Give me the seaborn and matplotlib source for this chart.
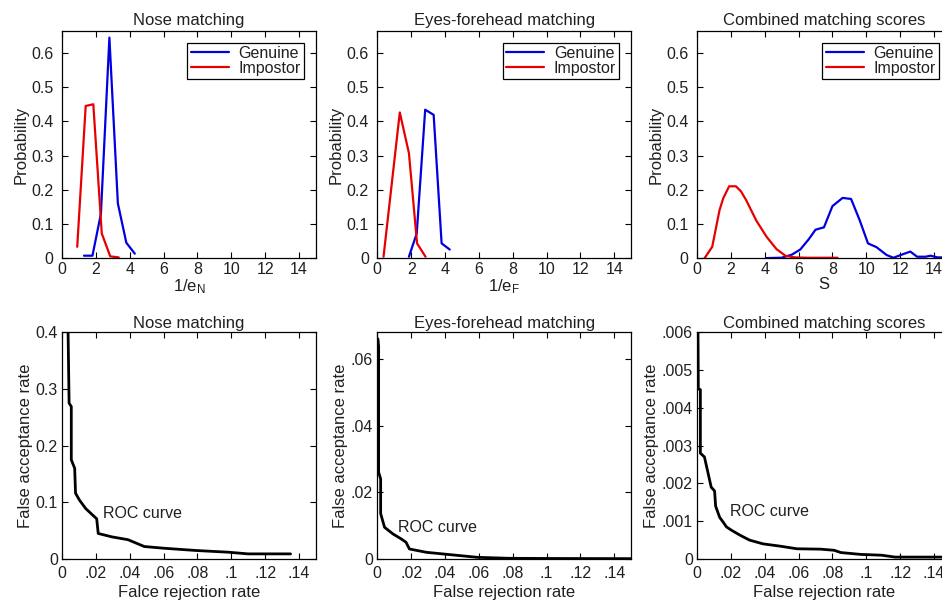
import numpy as np
import pandas as pd
import matplotlib
matplotlib.use('Agg')
import matplotlib.pyplot as plt
import seaborn as sns

# ---------------- data ----------------
nose_gen_x = [1.3, 1.8, 2.3, 2.8, 3.3, 3.8, 4.3]
nose_gen_y = [0.007, 0.007, 0.13, 0.645, 0.16, 0.045, 0.013]
nose_imp_x = [0.9, 1.4, 1.85, 2.35, 2.85, 3.35]
nose_imp_y = [0.033, 0.445, 0.45, 0.072, 0.005, 0.002]

eyes_gen_x = [1.87, 2.33, 2.83, 3.33, 3.8, 4.28]
eyes_gen_y = [0.004, 0.072, 0.434, 0.419, 0.043, 0.025]
eyes_imp_x = [0.37, 1.33, 1.87, 2.35, 2.85]
eyes_imp_y = [0.004, 0.426, 0.307, 0.043, 0.004]

comb_gen_x = [4.1, 5.0, 5.6, 6.1, 6.6, 7.0, 7.5, 8.0, 8.6, 9.1, 9.6, 10.1, 10.6,
              11.2, 11.6, 12.2, 12.6, 13.0, 13.5, 13.8, 14.2, 15.0]
comb_gen_y = [0.0, 0.001, 0.01, 0.025, 0.055, 0.083, 0.09, 0.152, 0.176, 0.173,
              0.112, 0.043, 0.032, 0.009, 0.001, 0.012, 0.019, 0.004, 0.004,
              0.007, 0.002, 0.002]
comb_imp_x = [0.45, 0.9, 1.33, 1.55, 1.9, 2.3, 2.6, 2.9, 3.5, 4.1, 4.7, 5.25,
              5.8, 6.5, 7.5, 8.3]
comb_imp_y = [0.0, 0.033, 0.14, 0.175, 0.21, 0.21, 0.195, 0.17, 0.11, 0.063,
              0.026, 0.006, 0.002, 0.001, 0.001, 0.001]

roc_nose_frr = [0.0036, 0.0042, 0.0055, 0.0055, 0.0075, 0.008, 0.0103, 0.014,
                0.019, 0.0205, 0.0214, 0.0295, 0.039, 0.0486, 0.06, 0.079,
                0.098, 0.11, 0.135]
roc_nose_far = [0.4, 0.275, 0.269, 0.175, 0.16, 0.116, 0.104, 0.089, 0.075,
                0.071, 0.045, 0.039, 0.034, 0.022, 0.019, 0.015, 0.012, 0.009,
                0.009]

roc_eyes_frr = [0.0004, 0.0008, 0.0008, 0.002, 0.002, 0.0043, 0.0093, 0.0142,
                0.017, 0.019, 0.029, 0.039, 0.049, 0.059, 0.078, 0.1, 0.15]
roc_eyes_far = [0.066, 0.0638, 0.026, 0.024, 0.0136, 0.0095, 0.0075, 0.006,
                0.005, 0.003, 0.002, 0.0015, 0.001, 0.0005, 0.0002, 0.00015,
                0.0001]

roc_comb_frr = [0.0006, 0.0008, 0.002, 0.002, 0.0044, 0.0074, 0.0084, 0.0104,
                0.011, 0.0134, 0.0154, 0.0174, 0.0204, 0.0254, 0.031, 0.039,
                0.049, 0.059, 0.073, 0.081, 0.085, 0.097, 0.109, 0.117, 0.133,
                0.15]
roc_comb_far = [0.006, 0.0045, 0.00448, 0.0028, 0.0027, 0.0021, 0.0019, 0.0018,
                0.0014, 0.0011, 0.00098, 0.00085, 0.00076, 0.00063, 0.0005,
                0.0004, 0.00034, 0.00027, 0.00026, 0.00023, 0.00017, 0.00012,
                0.0001, 0.00005, 0.00005, 0.00005]

top_titles = ["Nose matching", "Eyes-forehead matching", "Combined matching scores"]
top_xlabels = [r"1/e$_\mathregular{N}$", r"1/e$_\mathregular{F}$", "S"]
bot_xlabels = ["Falce rejection rate", "False rejection rate", "False rejection rate"]
top_xticks = [0, 2, 4, 6, 8, 10, 12, 14]
top_yticks = [0, 0.1, 0.2, 0.3, 0.4, 0.5, 0.6]
top_yticklabels = ["0", "0.1", "0.2", "0.3", "0.4", "0.5", "0.6"]
bot_xticks = [0, 0.02, 0.04, 0.06, 0.08, 0.1, 0.12, 0.14]
bot_xticklabels = ["0", ".02", ".04", ".06", ".08", ".1", ".12", ".14"]
roc1_yticks = [0, 0.1, 0.2, 0.3, 0.4]
roc1_yticklabels = ["0", "0.1", "0.2", "0.3", "0.4"]
roc2_yticks = [0, 0.02, 0.04, 0.06]
roc2_yticklabels = ["0", ".02", ".04", ".06"]
roc3_yticks = [0, 0.001, 0.002, 0.003, 0.004, 0.005, 0.006]
roc3_yticklabels = ["0", ".001", ".002", ".003", ".004", ".005", ".006"]
roc_text_pos = [(0.024, 0.080), (0.0122, 0.0095), (0.0195, 0.00125)]

# ---------------- style ----------------
sns.set_style("ticks")
plt.rcParams['font.family'] = ['Liberation Sans', 'DejaVu Sans']
plt.rcParams['mathtext.default'] = 'regular'
plt.rcParams['mathtext.fontset'] = 'custom'
plt.rcParams['mathtext.rm'] = 'Liberation Sans'
plt.rcParams['xtick.direction'] = 'in'
plt.rcParams['ytick.direction'] = 'in'
plt.rcParams['xtick.top'] = True
plt.rcParams['ytick.right'] = True

TICK_FS = 11.5
LAB_FS = 12
TITLE_FS = 12
TXT_COLOR = '#202020'

fig = plt.figure(figsize=(9.42, 6.03), dpi=100)
lefts = [0.0658, 0.4005, 0.7399]
W = 0.2696
top_row = [fig.add_axes([l, 0.572, W, 0.377]) for l in lefts]
bot_row = [fig.add_axes([l, 0.073, W, 0.376]) for l in lefts]


def style_axes(ax, ypad, xpad):
    for s in ax.spines.values():
        s.set_visible(True)
        s.set_color('black')
        s.set_linewidth(0.9)
    ax.tick_params(axis='both', which='both', length=4, width=0.8,
                   colors='black', labelcolor=TXT_COLOR, labelsize=TICK_FS,
                   top=True, right=True, direction='in')
    ax.tick_params(axis='x', pad=xpad)
    ax.tick_params(axis='y', pad=ypad)


top_data = [
    (nose_gen_x, nose_gen_y, nose_imp_x, nose_imp_y),
    (eyes_gen_x, eyes_gen_y, eyes_imp_x, eyes_imp_y),
    (comb_gen_x, comb_gen_y, comb_imp_x, comb_imp_y),
]

for ax, (gx, gy, ix, iy), title, xl in zip(top_row, top_data, top_titles, top_xlabels):
    df = pd.concat([
        pd.DataFrame({'x': gx, 'y': gy, 'kind': 'Genuine'}),
        pd.DataFrame({'x': ix, 'y': iy, 'kind': 'Impostor'}),
    ], ignore_index=True)
    sns.lineplot(data=df, x='x', y='y', hue='kind',
                 palette={'Genuine': '#0000e0', 'Impostor': '#e60000'},
                 estimator=None, sort=False, linewidth=1.6, ax=ax)
    ax.set_xlim(0, 15)
    ax.set_ylim(0, 0.665)
    ax.set_xticks(top_xticks)
    ax.set_xticklabels([str(t) for t in top_xticks])
    ax.set_yticks(top_yticks)
    ax.set_yticklabels(top_yticklabels)
    ax.set_title(title, fontsize=TITLE_FS, pad=4, color=TXT_COLOR)
    ax.set_xlabel(xl, fontsize=LAB_FS, labelpad=0, color=TXT_COLOR)
    ax.set_ylabel("Probability", fontsize=LAB_FS, labelpad=2, color=TXT_COLOR)
    style_axes(ax, 6, 3)
    leg = ax.legend(loc='upper right', fontsize=TICK_FS, frameon=True,
                    fancybox=False, edgecolor='black', framealpha=1,
                    handlelength=2.4, handletextpad=0.6, labelspacing=0.0,
                    borderpad=0.2, borderaxespad=0.75, title=None)
    leg.get_frame().set_linewidth(0.9)
    for t in leg.get_texts():
        t.set_color(TXT_COLOR)

roc_data = [
    (roc_nose_frr, roc_nose_far, 0.4, roc1_yticks, roc1_yticklabels),
    (roc_eyes_frr, roc_eyes_far, 0.068, roc2_yticks, roc2_yticklabels),
    (roc_comb_frr, roc_comb_far, 0.006, roc3_yticks, roc3_yticklabels),
]

for ax, (fx, fy, ymax, yt, ytl), title, xl, tp in zip(bot_row, roc_data, top_titles,
                                                     bot_xlabels, roc_text_pos):
    df = pd.DataFrame({'frr': fx, 'far': fy})
    sns.lineplot(data=df, x='frr', y='far', estimator=None, sort=False,
                 color='black', linewidth=2.0, ax=ax)
    ax.set_xlim(0, 0.15)
    ax.set_ylim(0, ymax)
    ax.set_xticks(bot_xticks)
    ax.set_xticklabels(bot_xticklabels)
    ax.set_yticks(yt)
    ax.set_yticklabels(ytl)
    ax.set_title(title, fontsize=TITLE_FS, pad=3, color=TXT_COLOR)
    ax.set_xlabel(xl, fontsize=LAB_FS, labelpad=3, color=TXT_COLOR)
    ax.set_ylabel("False acceptance rate", fontsize=LAB_FS, labelpad=2, color=TXT_COLOR)
    ax.text(tp[0], tp[1], "ROC curve", fontsize=TICK_FS, va='center', ha='left',
            color=TXT_COLOR)
    style_axes(ax, 3, 5)

fig.savefig("out.png", dpi=100, facecolor='white')
